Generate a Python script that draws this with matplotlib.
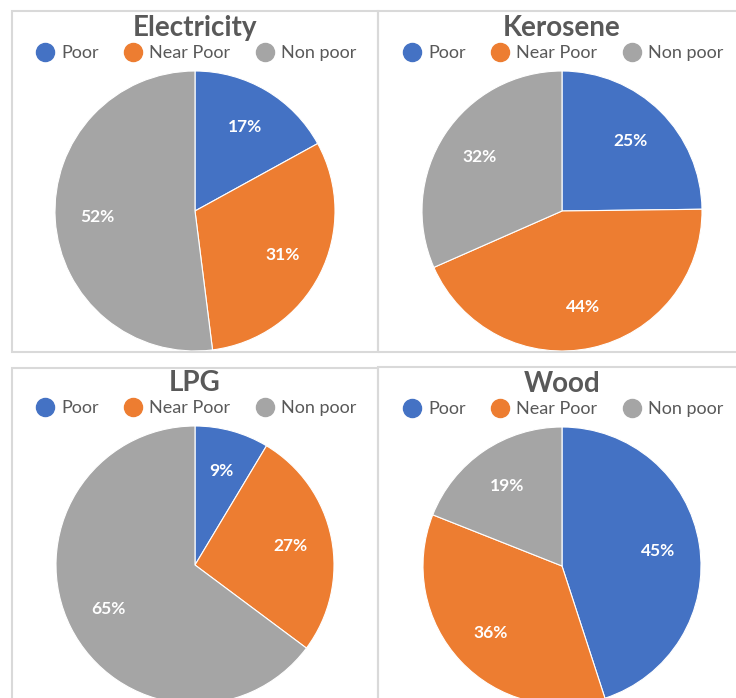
import matplotlib
matplotlib.use("Agg")
import matplotlib.pyplot as plt
from matplotlib.patches import Rectangle
from matplotlib.lines import Line2D

plt.rcParams["font.family"] = ["Lato", "DejaVu Sans"]

categories = ["Poor", "Near Poor", "Non poor"]
colors = ["#4472C4", "#ED7D31", "#A5A5A5"]

titles = ["Electricity", "Kerosene", "LPG", "Wood"]
electricity = [17, 31, 52]
kerosene = [24.8, 43.6, 31.6]
lpg = [8.6, 26.6, 64.8]
wood = [45, 36, 19]
values = [electricity, kerosene, lpg, wood]

W, H = 736, 698
fig = plt.figure(figsize=(W / 100, H / 100), dpi=100)


def fx(px):
    return px / W


def fy(py):
    return 1 - py / H


# panel frames (pixel boxes: left, top, right, bottom)
frames = [(12, 11, 378, 352), (378, 11, 745, 352),
          (12, 368, 378, 705), (378, 367, 745, 705)]
for l, t, r, b in frames:
    fig.add_artist(Rectangle((fx(l), fy(b)), fx(r) - fx(l), fy(t) - fy(b),
                             transform=fig.transFigure, fill=False,
                             edgecolor="#D9D9D9", linewidth=1.5))

# pie centres and radius in pixels
centres = [(195, 211, 140), (562, 211, 140), (195, 565, 139), (562, 566, 139)]

handles = [Line2D([], [], marker="o", linestyle="", markersize=13,
                  markerfacecolor=c, markeredgecolor=c) for c in colors]

for title, vals, (cx, cy, rad) in zip(titles, values, centres):
    ax = fig.add_axes([fx(cx - rad), fy(cy + rad), (2 * rad) / W, (2 * rad) / H])
    ax.pie(vals, colors=colors, startangle=90, counterclock=False,
           autopct=lambda p: f"{p:.0f}%", pctdistance=0.7,
           wedgeprops=dict(edgecolor="white", linewidth=0.8),
           textprops=dict(color="white", fontsize=12.5, fontweight="bold"))
    ax.set_xlim(-1, 1)
    ax.set_ylim(-1, 1)
    ax.set_aspect("equal")
    fig.text(fx(cx), fy(cy - rad - 43), title, ha="center", va="center",
             fontsize=20, fontweight="bold", color="#595959")
    fig.legend(handles, categories, loc="center", ncol=3,
               bbox_to_anchor=(fx(cx), fy(cy - rad - 18)), frameon=False,
               fontsize=13, labelcolor="#595959", handletextpad=0.3,
               columnspacing=1.3, handlelength=1.2)

plt.savefig("out.png", dpi=100)
